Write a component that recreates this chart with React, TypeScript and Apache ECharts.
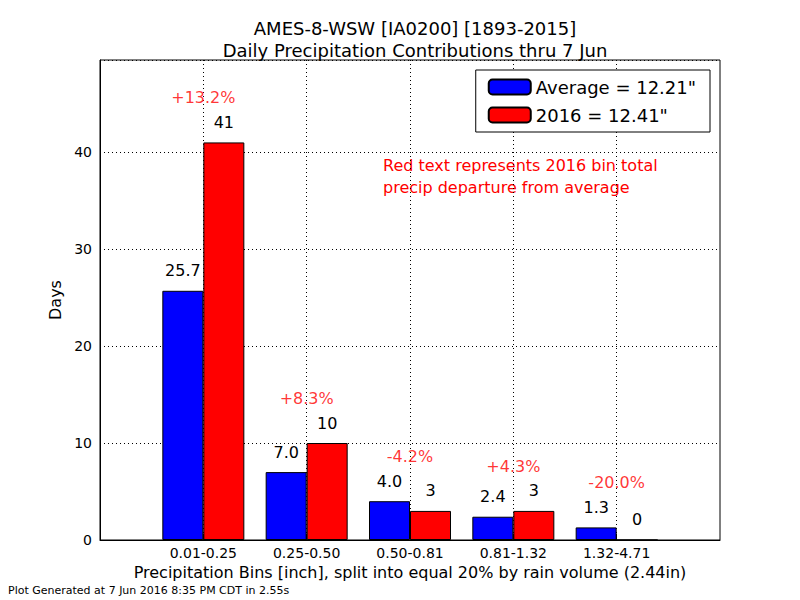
import React, { useEffect, useRef } from "react";
import * as echarts from "echarts";

// bins (first and last slots are empty padding so ticks land like matplotlib's xlim)
const categories = ["", "0.01-0.25", "0.25-0.50", "0.50-0.81", "0.81-1.32", "1.32-4.71", ""];
const averageDays = [25.7, 7.0, 4.0, 2.4, 1.3];
const days2016 = [41, 10, 3, 3, 0];
const departures = ["+13.2%", "+8.3%", "-4.2%", "+4.3%", "-20.0%"];
const yTicks = [0, 10, 20, 30, 40];

const FONT = "DejaVu Sans";

const App: React.FC = () => {
  const chartRef = useRef<HTMLDivElement>(null);

  useEffect(() => {
    if (!chartRef.current) return;
    const chart = echarts.init(chartRef.current, undefined, { renderer: "svg" });
    const realIdx = (i: number) => i >= 1 && i <= 5;

    const option: echarts.EChartsOption = {
      animation: false,
      textStyle: { fontFamily: FONT },
      title: {
        text: "AMES-8-WSW [IA0200] [1893-2015]\nDaily Precipitation Contributions thru 7 Jun",
        left: 410,
        textAlign: "center",
        top: 12,
        textStyle: { fontFamily: FONT, fontSize: 18, fontWeight: "normal", color: "#000", lineHeight: 22 },
      },
      grid: { left: 100, right: 80, top: 60, bottom: 60, show: true, borderColor: "#000", borderWidth: 1 },
      legend: {
        right: 90,
        top: 70,
        orient: "vertical",
        backgroundColor: "#fff",
        borderColor: "#000",
        borderWidth: 1,
        padding: [8, 14, 8, 12],
        itemGap: 10,
        itemWidth: 42,
        itemHeight: 15,
        textStyle: { fontFamily: FONT, fontSize: 18, color: "#000" },
        data: ["Average = 12.21\"", "2016 = 12.41\""],
      },
      xAxis: {
        type: "category",
        data: categories,
        boundaryGap: false,
        name: "Precipitation Bins [inch], split into equal 20% by rain volume (2.44in)",
        nameLocation: "middle",
        nameGap: 24,
        nameTextStyle: { fontFamily: FONT, fontSize: 16, color: "#000" },
        axisLine: { lineStyle: { color: "#000" } },
        axisTick: { inside: true, length: 6, interval: (i: number) => realIdx(i), lineStyle: { color: "#000" } },
        axisLabel: { interval: 0, fontFamily: FONT, fontSize: 14, color: "#000", margin: 6 },
        splitLine: {
          show: true,
          interval: (i: number) => realIdx(i),
          lineStyle: { type: [1, 3], color: "#000" },
        },
      },
      yAxis: {
        type: "value",
        min: 0,
        max: 49.5,
        interval: 10,
        name: "Days",
        nameLocation: "middle",
        nameGap: 36,
        nameTextStyle: { fontFamily: FONT, fontSize: 16, color: "#000" },
        axisLine: { show: true, lineStyle: { color: "#000" } },
        axisTick: { inside: true, length: 6, lineStyle: { color: "#000" } },
        axisLabel: {
          fontFamily: FONT,
          fontSize: 14,
          color: "#000",
          formatter: (v: number) => (yTicks.includes(v) ? String(v) : ""),
        },
        splitLine: { lineStyle: { type: [1, 3], color: "#000" } },
      },
      series: [
        {
          name: "Average = 12.21\"",
          type: "bar",
          barWidth: 41,
          barGap: "0%",
          data: [null, ...averageDays, null],
          itemStyle: { color: "#0000ff", borderColor: "#000", borderWidth: 1 },
          label: {
            show: true,
            position: "top",
            distance: 12,
            fontFamily: FONT,
            fontSize: 16,
            color: "#000",
            formatter: (p: any) => Number(p.value).toFixed(1),
          },
        },
        {
          name: "2016 = 12.41\"",
          type: "bar",
          barWidth: 41,
          barGap: "0%",
          data: [null, ...days2016, null],
          itemStyle: { color: "#ff0000", borderColor: "#000", borderWidth: 1 },
          label: {
            show: true,
            position: "top",
            distance: 12,
            fontFamily: FONT,
            fontSize: 16,
            color: "#000",
            formatter: (p: any) => String(p.value),
          },
        },
        {
          name: "departure",
          type: "scatter",
          symbolSize: 0,
          silent: true,
          data: departures.map((d, i) => ({
            value: [i + 1, Math.max(averageDays[i], days2016[i]) + 4.6],
            name: d,
          })),
          label: {
            show: true,
            position: "inside",
            fontFamily: FONT,
            fontSize: 16,
            color: "#ff0000",
            formatter: (p: any) => p.name,
          },
        },
      ],
      graphic: [
        {
          type: "text",
          left: 533 - 150,
          top: 154,
          style: {
            text: "Red text represents 2016 bin total\nprecip departure from average",
            fill: "#ff0000",
            font: `16px ${FONT}`,
            align: "center",
            lineHeight: 22,
            width: 300,
          },
        },
        {
          type: "text",
          left: 8,
          top: 585,
          style: { text: "Plot Generated at 7 Jun 2016 8:35 PM CDT in 2.55s", fill: "#000", font: `11px ${FONT}` },
        },
      ],
    };

    chart.setOption(option);
    return () => chart.dispose();
  }, []);

  return <div ref={chartRef} style={{ width: 800, height: 600, position: "absolute", left: 0, top: 0 }} />;
};

export default App;
